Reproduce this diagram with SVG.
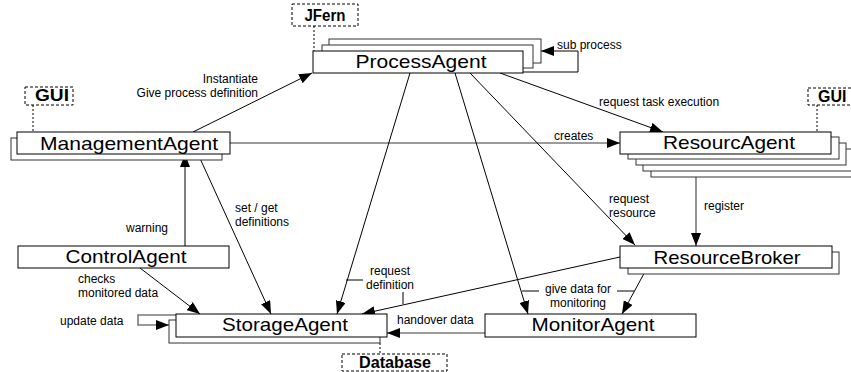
<svg xmlns="http://www.w3.org/2000/svg" width="851" height="372" viewBox="0 0 851 372">
<defs>
<style>
.box{fill:#fff;stroke:#000;stroke-width:1}
.back{fill:#fff;stroke:#333;stroke-width:1}
.dash{fill:#fff;stroke:#000;stroke-width:1;stroke-dasharray:3,2}
.dline{fill:none;stroke:#000;stroke-width:1;stroke-dasharray:2,2}
.name{font-family:"Liberation Sans",Arial,sans-serif;font-size:19px;fill:#000;text-anchor:middle}
.lbl{font-family:"Liberation Sans",Arial,sans-serif;font-size:12px;fill:#000}
.tag{font-family:"Liberation Sans",Arial,sans-serif;font-size:16px;font-weight:bold;fill:#000}
.c{fill:none;stroke:#000;stroke-width:1}
.g{fill:none;stroke:#7a7a7a;stroke-width:1.6}
</style>
<marker id="arr" markerWidth="13" markerHeight="10" refX="13" refY="5" orient="auto" markerUnits="userSpaceOnUse"><path d="M0,0 L13,5 L0,10 z" fill="#000"/></marker>
</defs>
<rect width="851" height="372" fill="#fff"/>

<g id="connectors">
<line class="c" x1="193" y1="132" x2="312" y2="73" marker-end="url(#arr)"/>
<line class="g" x1="230" y1="143" x2="620" y2="143" marker-end="url(#arr)"/>
<line class="c" x1="500" y1="73" x2="663" y2="132" marker-end="url(#arr)"/>
<line class="c" x1="410" y1="73" x2="337" y2="314" marker-end="url(#arr)"/>
<line class="c" x1="455" y1="73" x2="528" y2="314" marker-end="url(#arr)"/>
<line class="c" x1="470" y1="73" x2="635" y2="245" marker-end="url(#arr)"/>
<polyline class="c" points="523,72 578,72 578,51 541,51" marker-end="url(#arr)"/>
<line class="g" x1="696" y1="177" x2="696" y2="246" marker-end="url(#arr)"/>
<line class="c" x1="620" y1="257" x2="362" y2="314" marker-end="url(#arr)"/>
<line class="c" x1="647" y1="268" x2="622" y2="314" marker-end="url(#arr)"/>
<line class="g" x1="485" y1="333" x2="387" y2="333" marker-end="url(#arr)"/>
<line class="c" x1="198" y1="154" x2="271" y2="314" marker-end="url(#arr)"/>
<line class="c" x1="185" y1="246" x2="185" y2="154" marker-end="url(#arr)"/>
<line class="c" x1="140" y1="268" x2="200" y2="314" marker-end="url(#arr)"/>
<polyline class="g" points="176,315 138,315 138,325 169,325" marker-end="url(#arr)"/>
<line class="c" x1="346" y1="280" x2="363" y2="280"/>
<line class="c" x1="403" y1="292" x2="403" y2="304"/>
<line class="c" x1="522" y1="291" x2="539" y2="291"/>
<line class="c" x1="617" y1="291" x2="634" y2="291"/>
<text class="lbl" text-anchor="end"><tspan x="258" y="83">Instantiate</tspan><tspan x="258" y="96.5">Give process definition</tspan></text>
<text class="lbl" x="554" y="140">creates</text>
<text class="lbl" x="599" y="106">request task execution</text>
<text class="lbl" x="557" y="49">sub process</text>
<text class="lbl"><tspan x="609" y="203">request</tspan><tspan x="609" y="216.5">resource</tspan></text>
<text class="lbl" x="704" y="210">register</text>
<text class="lbl" text-anchor="middle"><tspan x="390" y="275">request</tspan><tspan x="390" y="288.5">definition</tspan></text>
<text class="lbl" text-anchor="middle"><tspan x="578" y="293">give data for</tspan><tspan x="578" y="306.5">monitoring</tspan></text>
<text class="lbl" x="397" y="324">handover data</text>
<text class="lbl"><tspan x="235" y="212">set / get</tspan><tspan x="235" y="225.5">definitions</tspan></text>
<text class="lbl" x="168" y="232" text-anchor="end">warning</text>
<text class="lbl"><tspan x="78" y="283">checks</tspan><tspan x="78" y="296.5">monitored data</tspan></text>
<text class="lbl" x="60" y="325">update data</text>
</g>

<g id="jfern">
<rect class="dash" x="292" y="4" width="66" height="22"/>
<text class="tag" x="325" y="21" text-anchor="middle" textLength="41" lengthAdjust="spacingAndGlyphs">JFern</text>
<line class="dline" x1="314" y1="26" x2="314" y2="51"/>
</g>

<g id="gui-left">
<rect class="dash" x="25" y="87" width="48" height="18"/>
<text class="tag" x="52" y="101" text-anchor="middle" textLength="34" lengthAdjust="spacingAndGlyphs">GUI</text>
<line class="dline" x1="33" y1="105" x2="33" y2="132"/>
</g>

<g id="gui-right">
<rect class="dash" x="808" y="88" width="60" height="17"/>
<text class="tag" x="818" y="102">GUI</text>
<line class="dline" x1="817" y1="105" x2="817" y2="132"/>
</g>

<g id="database">
<line class="dline" x1="380" y1="343" x2="380" y2="354"/>
<rect class="dash" x="342" y="354" width="105" height="17"/>
<text class="tag" x="395" y="368" text-anchor="middle" textLength="72" lengthAdjust="spacingAndGlyphs">Database</text>
</g>

<g id="process-agent">
<rect class="back" x="329" y="39" width="212" height="24"/>
<rect class="back" x="322" y="45" width="211" height="23"/>
<rect class="box" x="313" y="51" width="210" height="22"/>
<text class="name" x="421" y="68" textLength="131" lengthAdjust="spacingAndGlyphs">ProcessAgent</text>
</g>

<g id="management-agent">
<rect class="back" x="11" y="138" width="211" height="22"/>
<rect class="box" x="17" y="132" width="213" height="22"/>
<text class="name" x="129" y="150" textLength="178" lengthAdjust="spacingAndGlyphs">ManagementAgent</text>
</g>

<g id="resourc-agent">
<rect class="back" x="651" y="155" width="211" height="22"/>
<rect class="back" x="643" y="149" width="211" height="22"/>
<rect class="back" x="636" y="143" width="210" height="22"/>
<rect class="back" x="628" y="137" width="211" height="22"/>
<rect class="box" x="620" y="132" width="211" height="22"/>
<text class="name" x="729" y="149" textLength="132" lengthAdjust="spacingAndGlyphs">ResourcAgent</text>
</g>

<g id="resource-broker">
<rect class="back" x="628" y="252" width="211" height="22"/>
<rect class="box" x="620" y="246" width="212" height="22"/>
<text class="name" x="727" y="264" textLength="147" lengthAdjust="spacingAndGlyphs">ResourceBroker</text>
</g>

<g id="control-agent">
<rect class="box" x="18" y="246" width="211" height="22"/>
<text class="name" x="126" y="263" textLength="121" lengthAdjust="spacingAndGlyphs">ControlAgent</text>
</g>

<g id="storage-agent">
<rect class="back" x="169" y="320" width="211" height="23"/>
<rect class="box" x="176" y="314" width="211" height="23"/>
<text class="name" x="285" y="331" textLength="126" lengthAdjust="spacingAndGlyphs">StorageAgent</text>
</g>

<g id="monitor-agent">
<rect class="box" x="485" y="314" width="211" height="23"/>
<text class="name" x="593" y="331" textLength="123" lengthAdjust="spacingAndGlyphs">MonitorAgent</text>
</g>
</svg>
